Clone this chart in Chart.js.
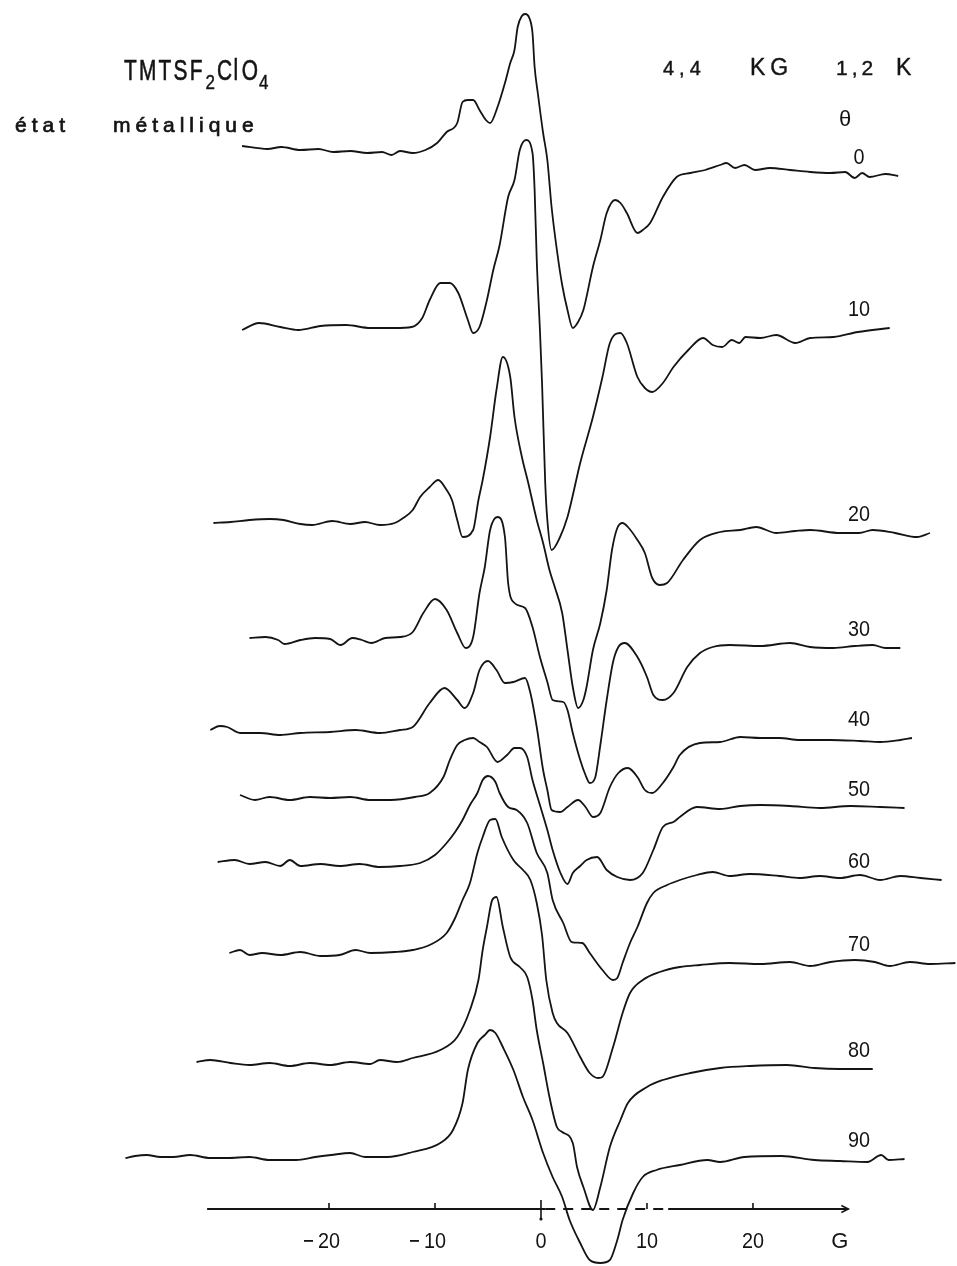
<!DOCTYPE html>
<html>
<head>
<meta charset="utf-8">
<script src="https://cdn.jsdelivr.net/npm/chart.js@4.4.1/dist/chart.umd.min.js"></script>
<style>
html,body{margin:0;padding:0;background:#fff;}
#wrap{width:957px;height:1266px;position:relative;}
</style>
</head>
<body>
<div id="wrap"><canvas id="c"></canvas></div>
<script>
// ---- data: field in gauss, signal in arbitrary units (positive up), relative to each trace's own baseline
const angles = [0, 10, 20, 30, 40, 50, 60, 70, 80, 90];
const offsets = [1116, 939, 744, 628, 535, 468, 402, 313, 203, 109];
const axisTicks = [-20, -10, 0, 10, 20];

const trace0 = [[-28.2,4],[-25.8,1],[-24.5,3],[-22.7,0],[-21.0,1],[-19.6,-2],[-18.0,-1],[-16.4,-3],[-15.0,-2],[-14.1,-5],[-13.3,-1],[-12.1,-3],[-10.9,0],[-9.8,7],[-8.9,18],[-7.9,27],[-7.4,48],[-6.9,50],[-6.4,50],[-5.8,40],[-5.2,30],[-4.8,27],[-4.1,43],[-3.4,67],[-2.9,87],[-2.5,100],[-2.2,123],[-1.8,134],[-1.5,136],[-1.1,132],[-0.8,117],[-0.6,83],[-0.3,57],[0.2,17],[0.6,-10],[1.0,-57],[1.5,-100],[2.0,-135],[2.5,-160],[3.0,-178],[3.5,-172],[4.0,-160],[4.9,-117],[5.6,-90],[6.2,-63],[7.0,-50],[7.5,-53],[8.1,-63],[9.1,-83],[9.6,-80],[10.3,-73],[11.5,-47],[12.8,-27],[14.1,-23],[15.5,-20],[16.9,-15],[17.5,-13],[18.3,-18],[19.2,-15],[20.2,-20],[21.6,-18],[23.5,-20],[25.4,-22],[27.3,-23],[28.7,-22],[29.6,-28],[30.3,-23],[31.0,-27],[32.5,-24],[33.7,-26]];
const trace10 = [[-28.2,-3],[-26.6,4],[-24.6,0],[-22.9,-3],[-20.8,1],[-18.4,2],[-16.1,-1],[-13.8,-1],[-12.2,0],[-11.2,9],[-10.5,27],[-9.5,44],[-8.6,44],[-7.8,34],[-6.9,7],[-6.4,-6],[-5.8,0],[-5.1,27],[-4.5,57],[-3.9,82],[-3.1,130],[-2.5,147],[-2.0,177],[-1.4,187],[-0.8,174],[-0.6,137],[-0.4,67],[-0.1,-3],[0.1,-56],[0.4,-156],[0.6,-193],[1.0,-223],[1.8,-210],[2.5,-190],[2.9,-173],[3.7,-136],[4.9,-90],[5.8,-50],[6.5,-16],[7.5,-6],[8.1,-16],[9.1,-50],[9.8,-61],[10.5,-65],[11.5,-56],[12.5,-40],[13.9,-23],[15.3,-11],[16.2,-18],[17.1,-20],[18.0,-13],[18.7,-16],[19.3,-10],[20.7,-11],[22.2,-8],[24.0,-16],[25.4,-11],[27.6,-10],[29.9,-5],[32.9,-1]];
const trace20 = [[-30.9,-1],[-29.3,0],[-27.5,2],[-25.6,3],[-24.3,2],[-22.7,-2],[-21.6,-3],[-19.7,1],[-18.0,-2],[-16.6,0],[-15.2,-3],[-13.8,-1],[-13.0,4],[-12.1,12],[-11.4,25],[-10.5,35],[-9.7,42],[-8.9,32],[-8.4,22],[-7.9,2],[-7.4,-15],[-6.4,-8],[-5.9,22],[-5.5,42],[-4.8,85],[-4.2,132],[-3.6,165],[-2.9,145],[-2.5,105],[-1.8,65],[-1.2,39],[-0.4,2],[0.2,-21],[0.8,-48],[1.3,-65],[2.0,-91],[2.5,-128],[3.0,-165],[3.5,-186],[4.0,-178],[4.3,-165],[4.9,-128],[5.6,-101],[6.2,-68],[6.7,-28],[7.2,-6],[7.7,-1],[8.2,-5],[9.1,-18],[9.8,-31],[10.5,-56],[11.2,-63],[11.9,-61],[13.4,-38],[15.0,-18],[16.9,-10],[18.8,-8],[20.3,-5],[22.2,-11],[24.0,-9],[25.4,-8],[28.2,-11],[30.0,-11],[31.3,-8],[33.4,-11],[35.5,-15],[36.7,-11]];
const trace30 = [[-27.5,0],[-26.0,1],[-24.8,-2],[-24.2,-6],[-22.7,-2],[-21.3,0],[-19.9,-1],[-18.9,-7],[-17.8,0],[-16.9,-2],[-16.0,-5],[-14.7,0],[-13.3,1],[-12.1,6],[-11.1,25],[-10.0,39],[-8.9,28],[-7.9,5],[-7.1,-10],[-6.4,1],[-5.8,45],[-5.3,71],[-4.8,108],[-4.1,121],[-3.4,101],[-3.1,55],[-2.5,35],[-1.5,30],[-0.8,11],[-0.1,-19],[0.6,-44],[1.1,-62],[2.1,-64],[2.5,-72],[3.0,-95],[3.7,-122],[4.2,-137],[4.6,-145],[5.1,-140],[5.6,-107],[6.2,-62],[6.8,-24],[7.3,-9],[7.9,-5],[9.1,-19],[10.0,-39],[10.6,-57],[11.5,-62],[12.5,-55],[13.8,-29],[15.0,-15],[16.2,-9],[17.8,-7],[20.7,-8],[23.5,-5],[25.4,-9],[27.6,-10],[29.6,-8],[31.3,-7],[32.5,-10],[33.9,-10]];
const trace40 = [[-31.2,1],[-30.3,5],[-29.6,4],[-28.4,-2],[-26.5,-2],[-24.6,-4],[-22.7,-2],[-19.9,-1],[-17.5,1],[-15.2,-2],[-13.3,1],[-12.1,4],[-10.5,28],[-9.1,43],[-7.9,31],[-7.2,23],[-6.4,38],[-5.8,61],[-5.0,70],[-4.2,61],[-3.4,48],[-2.6,49],[-1.5,53],[-1.0,38],[-0.4,4],[0.2,-39],[0.6,-59],[1.0,-79],[1.8,-81],[2.5,-76],[3.5,-69],[4.2,-76],[4.9,-86],[5.6,-82],[6.5,-56],[7.3,-42],[8.2,-37],[9.1,-46],[9.8,-59],[10.5,-62],[11.5,-52],[12.5,-36],[13.1,-24],[15.0,-12],[16.9,-11],[18.8,-6],[20.7,-7],[22.5,-7],[24.4,-9],[27.3,-9],[30.1,-10],[32.0,-11],[33.9,-9],[35.0,-7]];
const trace50 = [[-28.4,3],[-27.0,-2],[-25.6,1],[-23.7,-2],[-21.8,1],[-19.9,0],[-18.0,1],[-16.1,-2],[-14.2,-2],[-11.9,1],[-10.5,5],[-9.2,21],[-8.6,38],[-7.9,53],[-7.2,58],[-6.4,60],[-5.8,56],[-5.1,51],[-4.1,36],[-3.2,43],[-2.5,50],[-2.0,50],[-1.3,41],[-0.8,18],[-0.1,-7],[0.6,-32],[1.1,-52],[1.8,-74],[2.5,-86],[3.0,-75],[3.7,-68],[4.3,-62],[5.3,-59],[6.2,-72],[7.2,-79],[8.4,-82],[9.6,-75],[10.6,-52],[11.5,-29],[12.5,-24],[13.1,-19],[14.7,-9],[16.9,-11],[18.8,-8],[20.7,-7],[23.5,-8],[26.3,-10],[29.2,-8],[32.0,-9],[34.3,-10]];
const trace60 = [[-30.5,2],[-28.9,4],[-27.5,0],[-26.0,2],[-24.6,-2],[-23.7,4],[-22.7,-2],[-20.8,0],[-19.0,-2],[-17.1,0],[-15.2,-3],[-13.3,-2],[-11.4,1],[-10.0,9],[-8.9,21],[-8.1,32],[-7.4,44],[-6.7,59],[-6.0,71],[-5.5,84],[-5.0,88],[-4.3,82],[-3.9,71],[-3.1,57],[-2.3,54],[-1.3,41],[-0.4,11],[0.6,-9],[1.1,-36],[2.1,-59],[2.9,-78],[3.9,-79],[4.6,-89],[5.8,-106],[6.8,-116],[7.2,-114],[7.7,-99],[8.4,-79],[9.1,-63],[10.0,-39],[10.6,-29],[11.9,-21],[13.1,-16],[14.7,-11],[16.2,-8],[17.8,-12],[19.7,-10],[22.5,-12],[24.4,-14],[26.3,-12],[28.2,-14],[30.1,-11],[32.0,-16],[33.9,-12],[35.8,-14],[37.8,-16]];
const trace70 = [[-29.4,0],[-28.4,3],[-27.5,-2],[-26.3,0],[-24.6,-2],[-22.7,1],[-20.8,-3],[-19.0,-2],[-17.5,3],[-16.1,0],[-13.8,1],[-12.1,3],[-10.5,8],[-8.9,20],[-8.1,35],[-7.4,53],[-6.7,70],[-6.0,100],[-5.5,116],[-4.8,133],[-4.3,134],[-3.7,116],[-2.6,93],[-1.7,83],[-1.0,73],[-0.4,50],[0.1,18],[0.5,-27],[1.1,-60],[1.5,-70],[2.5,-80],[3.7,-104],[4.6,-120],[5.4,-125],[5.8,-124],[6.8,-94],[7.7,-60],[8.4,-40],[9.6,-27],[11.2,-19],[13.1,-14],[15.0,-12],[17.8,-10],[20.7,-11],[23.5,-9],[25.4,-13],[27.3,-9],[29.6,-7],[31.5,-9],[32.9,-13],[34.8,-9],[36.7,-11],[39.1,-10]];
const trace80 = [[-32.5,1],[-31.2,3],[-29.3,0],[-27.5,-2],[-25.6,0],[-23.7,-3],[-21.8,0],[-19.9,-2],[-18.0,1],[-16.1,-1],[-15.2,3],[-13.6,1],[-12.1,5],[-9.5,13],[-7.9,26],[-6.7,53],[-5.9,83],[-5.5,113],[-5.1,136],[-4.6,163],[-4.2,166],[-3.6,136],[-2.9,106],[-2.0,96],[-1.3,86],[-0.8,63],[-0.4,33],[0.2,0],[0.8,-34],[1.5,-64],[2.0,-69],[3.0,-80],[3.4,-104],[4.0,-124],[4.9,-147],[5.6,-124],[6.5,-84],[7.5,-57],[8.2,-40],[10.0,-24],[11.5,-17],[14.1,-10],[16.9,-5],[19.7,-3],[23.2,-2],[25.8,-5],[28.2,-6],[31.3,-6]];
const trace90 = [[-39.2,-1],[-38.3,1],[-37.2,2],[-35.9,0],[-34.7,0],[-33.1,2],[-31.2,-1],[-29.6,-1],[-27.5,0],[-25.6,-3],[-23.1,-3],[-21.3,0],[-19.8,2],[-18.0,4],[-16.6,0],[-14.5,0],[-12.1,5],[-9.5,14],[-8.3,27],[-7.4,54],[-6.9,87],[-6.0,114],[-5.3,122],[-4.8,127],[-4.3,124],[-3.6,110],[-2.6,87],[-1.7,60],[-0.8,37],[0.2,4],[1.1,-20],[2.0,-40],[2.7,-63],[3.7,-86],[4.6,-103],[5.6,-106],[6.5,-103],[7.2,-83],[7.7,-63],[8.7,-36],[9.6,-20],[10.9,-13],[13.1,-8],[15.7,-3],[16.9,-5],[19.2,0],[22.7,1],[25.8,-3],[28.2,-4],[30.8,-5],[32.1,2],[32.8,-3],[34.3,-2]];

const traces = [trace0, trace10, trace20, trace30, trace40, trace50, trace60, trace70, trace80, trace90];

// ---- chart
const FONT = '"Liberation Sans", Arial, Helvetica, sans-serif';
const INK = '#141414';

const datasets = traces.map((tr, i) => ({
  label: String(angles[i]),
  data: tr.map(p => ({ x: p[0], y: offsets[i] + p[1] })),
  borderColor: INK,
  borderWidth: 1.8,
  pointRadius: 0,
  fill: false,
  cubicInterpolationMode: 'monotone',
  clip: false
}));

function spacedText(ctx, str, x, y, spacing, sx, bolden) {
  sx = sx || 1;
  for (const ch of str) {
    ctx.save();
    ctx.translate(x, y);
    ctx.scale(sx, 1);
    ctx.fillText(ch, 0, 0);
    if (bolden) { ctx.lineWidth = bolden; ctx.strokeText(ch, 0, 0); }
    ctx.restore();
    x += ctx.measureText(ch).width * sx + spacing;
  }
  return x;
}

const decor = {
  id: 'decor',
  afterDraw(chart) {
    const ctx = chart.ctx;
    const xs = chart.scales.x, ys = chart.scales.y;
    const opt = chart.options.plugins.decor;
    ctx.save();
    ctx.fillStyle = INK;
    ctx.strokeStyle = INK;
    ctx.textBaseline = 'alphabetic';
    ctx.textAlign = 'left';

    // ---- field axis
    const yA = ys.getPixelForValue(opt.axisLevel);
    const px = v => xs.getPixelForValue(v);
    ctx.lineWidth = 2;
    ctx.beginPath();
    ctx.moveTo(px(opt.axisFrom), yA); ctx.lineTo(px(opt.dashFrom), yA);
    ctx.moveTo(px(opt.dashTo), yA); ctx.lineTo(px(opt.axisTo), yA);
    ctx.stroke();
    ctx.setLineDash([10, 8]);
    ctx.beginPath();
    ctx.moveTo(px(opt.dashFrom), yA); ctx.lineTo(px(opt.dashTo), yA);
    ctx.stroke();
    ctx.setLineDash([]);
    // arrow head
    const xe = px(opt.axisTo);
    ctx.lineWidth = 1.5;
    ctx.beginPath();
    ctx.moveTo(xe - 7, yA - 3.5); ctx.lineTo(xe, yA); ctx.lineTo(xe - 7, yA + 3.5);
    ctx.stroke();
    // ticks
    ctx.lineWidth = 1.6;
    axisTicks.forEach(t => {
      const x = px(t);
      ctx.beginPath();
      if (t === 0) { ctx.moveTo(x, yA - 9); ctx.lineTo(x, yA + 9); }
      else { ctx.moveTo(x, yA); ctx.lineTo(x, yA - 6); }
      ctx.stroke();
    });
    ctx.beginPath(); ctx.arc(px(0), yA + 10, 1.6, 0, Math.PI * 2); ctx.fill();

    // tick labels
    ctx.font = '22px ' + FONT;
    const yL = yA + 39;
    axisTicks.forEach(t => {
      const x = px(t);
      const digits = String(Math.abs(t));
      const w = ctx.measureText(digits).width * 0.9;
      ctx.save(); ctx.translate(x - w / 2, yL); ctx.scale(0.9, 1); ctx.fillText(digits, 0, 0); ctx.restore();
      if (t < 0) {
        ctx.fillRect(x - w / 2 - 14, yL - 8, 9, 1.8);
      }
    });
    ctx.textAlign = 'center';
    ctx.fillText(opt.unit, px(opt.unitAt), yL);

    // angle labels next to each trace's right end
    ctx.font = '22px ' + FONT;
    traces.forEach((tr, i) => {
      const last = tr[tr.length - 1];
      const y = ys.getPixelForValue(offsets[i] + last[1]) - 12;
      const x = px(opt.labelAt);
      ctx.save(); ctx.translate(x, y); ctx.scale(0.9, 1); ctx.fillText(String(angles[i]), 0, 0); ctx.restore();
    });

    // header texts
    ctx.textAlign = 'left';
    ctx.font = '29px ' + FONT;
    let x = spacedText(ctx, 'TMTSF', 124, 80, 2.2, 0.72, 0.6);
    ctx.font = '20px ' + FONT;
    x = spacedText(ctx, '2', x + 1, 89, 0, 0.85, 0.4);
    ctx.font = '29px ' + FONT;
    x = spacedText(ctx, 'Cl', x + 2, 80, 1.5, 0.72, 0.6);
    x = spacedText(ctx, 'O', x + 2, 80, 0, 0.72, 0.6);
    ctx.font = '20px ' + FONT;
    spacedText(ctx, '4', x + 1, 89, 0, 0.85, 0.4);

    ctx.font = '21px ' + FONT;
    spacedText(ctx, 'état', 15, 132, 5, 1, 0.7);
    spacedText(ctx, 'métallique', 113, 132, 5, 1, 0.7);

    ctx.font = '20px ' + FONT;
    spacedText(ctx, '4,4', 663, 75, 5, 1, 0.4);
    ctx.font = '23px ' + FONT;
    spacedText(ctx, 'KG', 750, 75, 5, 1, 0.4);
    ctx.font = '21px ' + FONT;
    spacedText(ctx, '1,2', 836, 75, 4, 1, 0.4);
    ctx.font = '23px ' + FONT;
    spacedText(ctx, 'K', 896, 75, 0, 1, 0.4);
    ctx.textAlign = 'center';
    ctx.font = '22px ' + FONT;
    ctx.fillText('\u03B8', 845, 126);
    ctx.restore();
  }
};

new Chart(document.getElementById('c'), {
  type: 'line',
  data: { datasets },
  options: {
    responsive: true,
    maintainAspectRatio: false,
    animation: false,
    layout: { padding: 0 },
    plugins: {
      legend: { display: false },
      tooltip: { enabled: false },
      decor: {
        axisLevel: 57, axisFrom: -31.5, axisTo: 29, dashFrom: 0.4, dashTo: 12,
        unit: 'G', unitAt: 28.2, labelAt: 30.0
      }
    },
    scales: {
      x: { type: 'linear', min: -51.04, max: 39.25, display: false },
      y: { type: 'linear', min: 0, max: 1266, display: false }
    }
  },
  plugins: [decor]
});
</script>
</body>
</html>
